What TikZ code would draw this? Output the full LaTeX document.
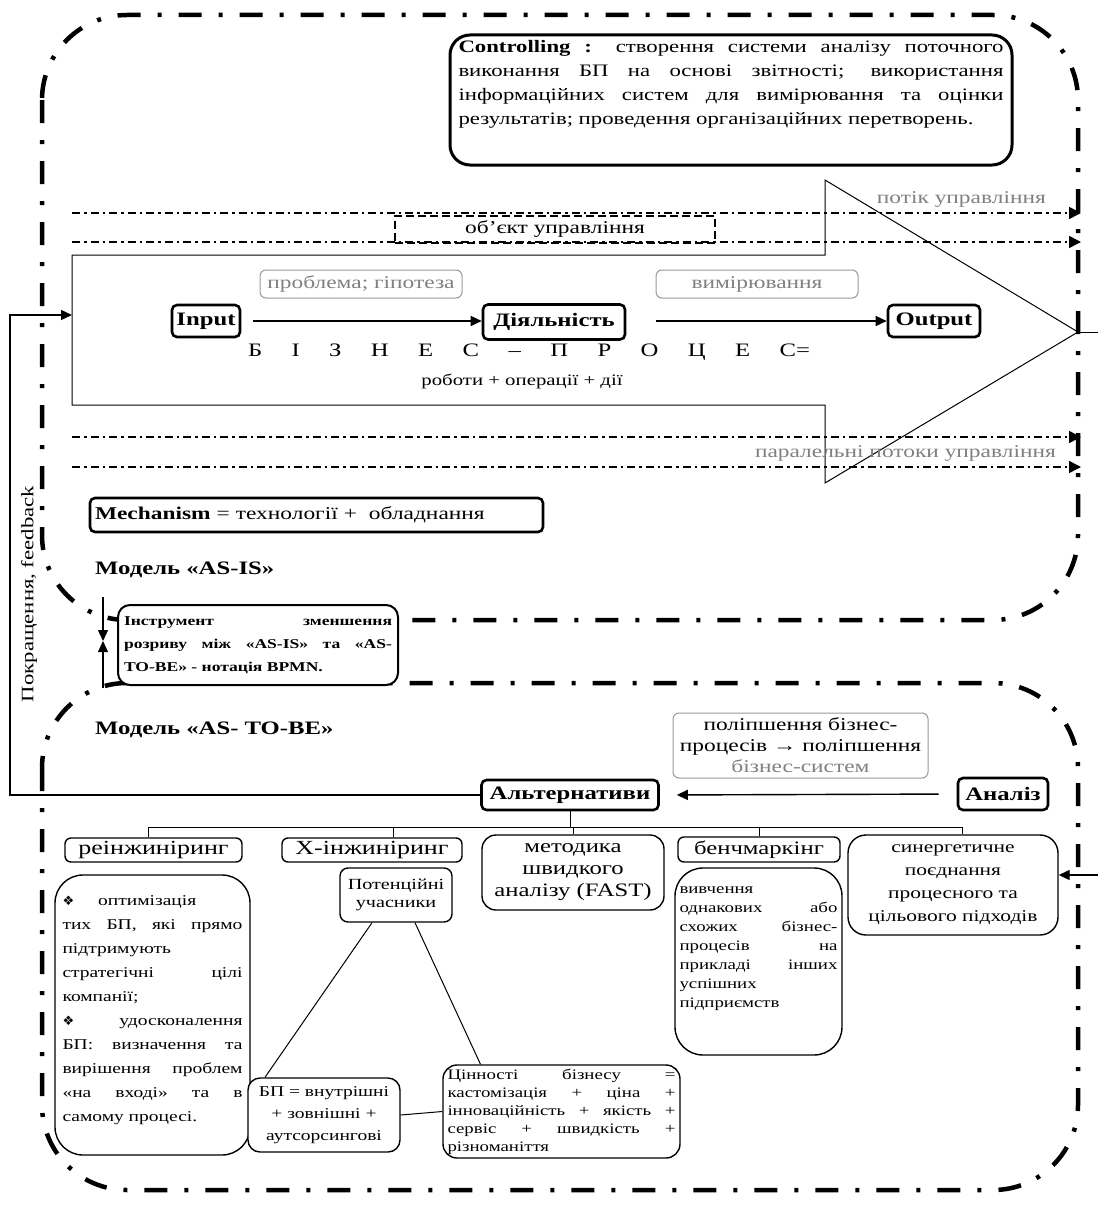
\documentclass[tikz,border=0pt]{standalone}
\usepackage{fontspec}
\setmainfont{Liberation Serif}[FakeStretch=1.3]
\newfontfamily\dejavu{DejaVu Sans}
\usetikzlibrary{arrows.meta,calc}
\newcommand\fsz[2]{\fontsize{#1}{#2}\selectfont}
\definecolor{lbl}{gray}{0.5}
\begin{document}
\begin{tikzpicture}[x=1pt,y=-1pt,
  frame/.style={line width=4.5pt, dash pattern=on 23pt off 17pt on 4pt off 17pt, rounded corners=85pt},
  flow/.style={line width=1.5pt, dash pattern=on 8pt off 4pt on 2.5pt off 4pt, -{Triangle[length=12pt,width=12pt]}},
  bbox/.style={draw, line width=2.6pt, rounded corners=5pt, font=\bfseries\fsz{19}{22}, inner sep=0pt, fill=white},
  gbox/.style={draw=black!40, line width=1pt, rounded corners=6pt, text=lbl, font=\fsz{18}{21}, inner sep=0pt},
  tbox/.style={draw, line width=1.4pt, rounded corners=6pt, inner sep=0pt, fill=white},
  glabel/.style={text=lbl, font=\fsz{18}{21}, inner sep=0pt},
  conn/.style={line width=1pt},
  arr/.style={line width=1.4pt, -{Triangle[length=11pt,width=10pt]}},
]
\fill[white] (0,0) rectangle (1098,1207);
\useasboundingbox (0,0) rectangle (1098,1207);

% frames
\draw[frame] (42,15) rectangle (1078,620);
\draw[frame] (42,683) rectangle (1078,1190);

% big block arrow
\coordinate (tip) at (1078,332);
\draw[conn] (72,255) -- (825,255) -- (825,180) -- (tip) -- (825,483) -- (825,405) -- (72,405) -- cycle;

% control flows
\coordinate (f1a) at (72,213); \coordinate (f1b) at (1081,213);
\coordinate (f2a) at (72,242); \coordinate (f2b) at (1081,242);
\coordinate (f3a) at (72,437); \coordinate (f3b) at (1081,437);
\coordinate (f4a) at (72,467); \coordinate (f4b) at (1081,467);
\draw[flow] (f1a) -- (f1b);
\draw[flow] (f2a) -- (f2b);
\draw[flow] (f3a) -- (f3b);
\draw[flow] (f4a) -- (f4b);
\node[glabel, anchor=east] (potik) at (1046,199) {потік управління};
\node[glabel, anchor=east] (parpot) at (1056,453) {паралельні потоки управління};
\node[draw, line width=2pt, dash pattern=on 8pt off 4pt, minimum width=320, minimum height=27, inner sep=0pt, font=\fsz{18}{21}] (obj) at (555,229) {об’єкт управління};

% controlling box
\node[draw, line width=3pt, rounded corners=20pt, minimum width=562, minimum height=130, inner sep=0pt] (ctrl) at (731,100) {};
\node[anchor=north, text width=545, align=justify, inner sep=0pt, font=\fsz{17.5}{24}] (ctrltxt) at (731,40)
 {\textbf{Controlling :} створення системи аналізу поточного\linebreak виконання БП на основі звітності; використання\linebreak інформаційних систем для вимірювання та оцінки\linebreak результатів; проведення організаційних перетворень.};

% process
\node[gbox, minimum width=202, minimum height=28] (prob) at (361,284) {проблема; гіпотеза};
\node[gbox, minimum width=202, minimum height=28] (vym) at (757,284) {вимірювання};
\node[bbox, minimum width=68, minimum height=32] (input) at (206,321) {Input};
\node[bbox, minimum width=142, minimum height=35] (dial) at (554,322) {Діяльність};
\node[bbox, minimum width=92, minimum height=32] (output) at (934,321) {Output};
\draw[arr, shorten <=12pt] (input.east) -- (dial.west |- input.east);
\draw[arr, shorten <=30pt] (dial.east |- output.west) -- (output.west);
\node[text width=562, inner sep=0pt, font=\fsz{19}{22}] (biz) at (529,352)
 {Б\hfill І\hfill З\hfill Н\hfill Е\hfill С\hfill –\hfill П\hfill Р\hfill О\hfill Ц\hfill Е\hfill С=};
\node[inner sep=0pt, font=\fsz{16}{20}] (rob) at (522,381) {роботи + операції + дії};

% mechanism
\node[bbox, font=\fsz{18}{22}, minimum width=453, minimum height=34, text width=443, align=left] (mech) at (316.5,515)
 {\textbf{Mechanism} = технології +\ \ обладнання};
\node[anchor=west, inner sep=0pt, font=\bfseries\fsz{19}{24}] (asis) at (95,570) {Модель «AS-IS»};

% instrument
\node[tbox, line width=2pt, rounded corners=12pt, minimum width=280, minimum height=80, text width=268, align=justify, font=\bfseries\fsz{13.5}{23}] (instr) at (258,645)
 {Інструмент зменшення\linebreak розриву між «AS-IS» та «AS-\linebreak TO-BE» - нотація BPMN.};
\coordinate (d1) at (103,597); \coordinate (d2) at (103,641); \coordinate (d3) at (103,688);
\draw[arr, line width=1.2pt] (d1) -- (d2);
\draw[arr, line width=1.2pt] (d3) -- (d2);

\node[anchor=west, inner sep=0pt, font=\bfseries\fsz{19}{24}] (tobe) at (95,730) {Модель «AS- TO-BE»};

% analysis
\node[gbox, text=black, align=center, minimum width=255, minimum height=65] (impr) at (800.5,745.5)
 {поліпшення бізнес-\\процесів \textrightarrow{} поліпшення\\\textcolor{lbl}{бізнес-систем}};
\node[bbox, minimum width=90, minimum height=32] (anal) at (1003,794) {Аналіз};
\node[bbox, minimum width=177, minimum height=30] (alt) at (570,795) {Альтернативи};
\draw[arr, shorten <=18pt, shorten >=17pt] (anal.west) -- (alt.east);

% feedback
\coordinate (fbc) at (10,315);
\coordinate (bodyin) at (72,315);
\draw[arr] (alt.west) -| (fbc) -- (bodyin);
\node[rotate=90, inner sep=0pt, font=\fsz{17.5}{22}] (fblbl) at (29,594) {Покращення, feedback};

% right-side links
\coordinate (rt1) at (1098,332);
\coordinate (rt2) at (1098,875);
\draw[conn] (tip) -- (rt1);

% alternatives
\node[tbox, minimum width=177, minimum height=24, font=\fsz{20}{22}] (reeng) at (153.5,850) {реінжиніринг};
\node[tbox, minimum width=180, minimum height=24, font=\fsz{20}{22}] (xeng) at (372,850) {X-інжиніринг};
\node[tbox, rounded corners=14pt, minimum width=182, minimum height=75, align=center, font=\fsz{19}{22}] (fast) at (573,872.5) {методика\\швидкого\\аналізу (FAST)};
\node[tbox, minimum width=162, minimum height=25, font=\fsz{19}{22}] (bench) at (759,849.5) {бенчмаркінг};
\node[tbox, rounded corners=18pt, minimum width=210, minimum height=100, align=center, font=\fsz{16.5}{23}] (syn) at (953,885) {синергетичне\\поєднання\\процесного та\\цільового підходів};
\draw[arr] (rt2) -- (rt2 -| syn.east);

\coordinate (busL) at (148,827);
\coordinate (busR) at (962,827);
\draw[conn] (busL) -- (busR);
\draw[conn] (alt.south) -- (alt.south |- busL);
\draw[conn] (busL) -- (busL |- reeng.north);
\draw[conn] ([xshift=21pt]xeng.north) -- ([xshift=21pt]xeng.north |- busL);
\draw[conn] (fast.north) -- (fast.north |- busL);
\draw[conn] (bench.north) -- (bench.north |- busL);
\draw[conn] (busR) -- (busR |- syn.north);

% reengineering details
\node[tbox, rounded corners=28pt, minimum width=195, minimum height=280] (reengbox) at (152.5,1015) {};
\node[anchor=north, text width=180, align=justify, inner sep=0pt, font=\fsz{15}{24}] (reengtxt) at (152.5,895)
 {{\dejavu\fsz{13}{24}❖}\hspace{24pt}оптимізація\linebreak тих БП, які прямо\linebreak підтримують\linebreak стратегічні цілі\linebreak компанії;\linebreak {\dejavu\fsz{13}{24}❖}\hspace{22pt plus 1fil}удосконалення\linebreak БП: визначення та\linebreak вирішення проблем\linebreak «на вході» та в\linebreak самому процесі.};

% X-engineering
\node[tbox, rounded corners=8pt, minimum width=112, minimum height=54, align=center, font=\fsz{15.5}{18}] (potent) at (396,895) {Потенційні\\учасники};
\node[tbox, rounded corners=12pt, minimum width=152, minimum height=74, align=center, font=\fsz{15}{22}] (bp) at (324,1115) {БП = внутрішні\\+ зовнішні +\\аутсорсингові};
\node[tbox, rounded corners=14pt, minimum width=237, minimum height=93, text width=228, align=justify, font=\fsz{14.5}{18}] (val) at (561.5,1111.5)
 {Цінності бізнесу =\linebreak кастомізація + ціна +\linebreak інноваційність + якість +\linebreak сервіс + швидкість +\linebreak різноманіття};
\draw[conn] ([xshift=-24pt]potent.south) -- ([xshift=-59pt]bp.north);
\draw[conn] ([xshift=19pt]potent.south) -- ([xshift=-81pt]val.north);
\draw[conn] (bp.east) -- (val.west);

% benchmarking details
\node[tbox, rounded corners=28pt, minimum width=167, minimum height=187] (benchbox) at (758.5,961.5) {};
\node[anchor=north, text width=158, align=justify, inner sep=0pt, font=\fsz{14.5}{19}] (benchtxt) at (758.5,886)
 {вивчення\linebreak однакових або\linebreak схожих бізнес-\linebreak процесів на\linebreak прикладі інших\linebreak успішних\linebreak підприємств};
\end{tikzpicture}
\end{document}
